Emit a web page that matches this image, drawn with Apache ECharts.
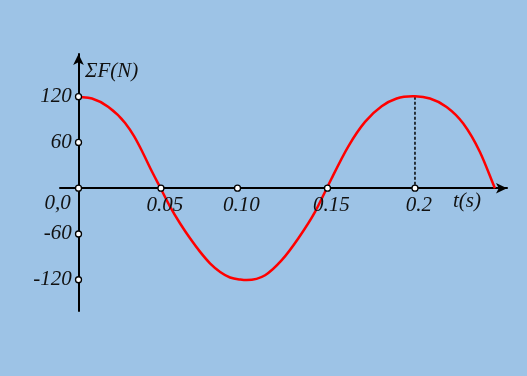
<!DOCTYPE html>
<html><head><meta charset="utf-8">
<script src="https://cdn.jsdelivr.net/npm/echarts@6/dist/echarts.min.js"></script>
<style>html,body{margin:0;padding:0;background:#9DC3E6;}#c{width:527px;height:376px;}</style>
</head><body><div id="c"></div>
<script>
// curve samples: time (s) and net force (N)
const tVals = [0, 0.008, 0.0178, 0.0277, 0.0331, 0.0378, 0.0426, 0.0488, 0.0545, 0.0604, 0.0664, 0.0723, 0.0783, 0.0842, 0.0901, 0.0961, 0.1, 0.1109, 0.1208, 0.1307, 0.1406, 0.1476, 0.1505, 0.1604, 0.1703, 0.1802, 0.1891, 0.2, 0.2089, 0.2188, 0.2287, 0.2386, 0.2475];
const fVals = [120, 117.6, 106.6, 85.5, 68, 48.5, 26.5, 0, -24.5, -46.3, -66, -83.5, -98.8, -109.8, -117.1, -119.8, -120.5, -114.1, -94.4, -65.6, -31.1, 0, 13.1, 55, 87, 107.5, 117.6, 120.5, 117.6, 106.6, 84.9, 47.6, 0];
// tick markers on the time axis (positions as drawn) and their labels
const xTickPos = [0.049, 0.0945, 0.148, 0.2];
const xTickLabels = ['0.05', '0.10', '0.15', '0.2'];
// tick markers on the force axis and their labels
const yTickVals = [120, 60, -60, -120];
const yTickLabels = ['120', '60', '-60', '-120'];
const originLabel = '0,0';
const xName = 't(s)';
const yName = 'ΣF(N)';
// dotted guide at the second maximum
const guideT = 0.2, guideF = 120;

const font = {fontFamily: 'Liberation Serif', fontStyle: 'italic', fontSize: 21, color: '#111'};
const chart = echarts.init(document.getElementById('c'));
const markerStyle = {color: '#fff', borderColor: '#000', borderWidth: 1.3, opacity: 1};

// smooth curve through the sampled points (cubic Hermite in pixel space, via the axes' scales)
function renderCurve(params, api) {
  if (params.dataIndex !== 0) return null;
  const n = tVals.length;
  const P = tVals.map((t, i) => api.coord([t, fVals[i]]));
  const sec = i => (P[i + 1][1] - P[i][1]) / (P[i + 1][0] - P[i][0]);
  const slope = i => {
    if (i === 0) return sec(0);
    if (i === n - 1) return sec(n - 2);
    const h0 = P[i][0] - P[i - 1][0], h1 = P[i + 1][0] - P[i][0];
    return (h1 * sec(i - 1) + h0 * sec(i)) / (h0 + h1);
  };
  let d = 'M' + P[0][0] + ' ' + P[0][1];
  for (let i = 0; i < n - 1; i++) {
    const h = (P[i + 1][0] - P[i][0]) / 3;
    const s0 = slope(i), s1 = slope(i + 1);
    d += ' C' + (P[i][0] + h) + ' ' + (P[i][1] + s0 * h) + ' ' +
         (P[i + 1][0] - h) + ' ' + (P[i + 1][1] - s1 * h) + ' ' +
         P[i + 1][0] + ' ' + P[i + 1][1];
  }
  return {type: 'path', shape: {pathData: d}, style: {stroke: '#ff0000', lineWidth: 2.5, fill: null, lineJoin: 'round'}};
}

chart.setOption({
  backgroundColor: '#9DC3E6',
  animation: false,
  grid: {left: 60, right: 20, top: 54, bottom: 65},
  xAxis: {type: 'value', min: -0.011, max: 0.2547,
    axisLine: {onZero: true, symbol: ['none', 'arrow'], symbolSize: [8, 11], symbolOffset: [0, 0], lineStyle: {color: '#000', width: 2}},
    axisTick: {show: false}, axisLabel: {show: false}, splitLine: {show: false}},
  yAxis: {type: 'value', min: -161, max: 176,
    axisLine: {onZero: true, symbol: ['none', 'arrow'], symbolSize: [8, 11], symbolOffset: [0, 0], lineStyle: {color: '#000', width: 2}},
    axisTick: {show: false}, axisLabel: {show: false}, splitLine: {show: false}},
  graphic: [
    {type: 'text', left: 85, top: 61, style: {text: yName, fill: '#111', font: 'italic 21px "Liberation Serif"'}},
    {type: 'text', left: 453, top: 191, style: {text: xName, fill: '#111', font: 'italic 21px "Liberation Serif"'}}
  ],
  series: [
    {type: 'line', data: [[guideT, guideF], [guideT, 0]], symbol: 'none', z: 2,
      lineStyle: {color: '#000', width: 1.5, type: [3, 2]}},
    {type: 'custom', renderItem: renderCurve, z: 3, clip: false,
      data: tVals.map((t, i) => [t, fVals[i]])},
    {type: 'scatter', symbol: 'circle', symbolSize: 6, z: 5, itemStyle: markerStyle,
      data: xTickPos.map((t, i) => ({value: [t, 0], label: {formatter: xTickLabels[i]}})),
      label: Object.assign({show: true, position: 'bottom', distance: 3, offset: [4, 0]}, font)},
    {type: 'scatter', symbol: 'circle', symbolSize: 6, z: 5, itemStyle: markerStyle,
      data: yTickVals.map((v, i) => ({value: [0, v], label: {formatter: yTickLabels[i]}})),
      label: Object.assign({show: true, position: 'left', distance: 3}, font)},
    {type: 'scatter', symbol: 'circle', symbolSize: 6, z: 5, itemStyle: markerStyle,
      data: [{value: [0, 0], label: {formatter: originLabel}}],
      label: Object.assign({show: true, position: 'left', distance: 4, offset: [0, 15]}, font)}
  ]
});
</script></body></html>
